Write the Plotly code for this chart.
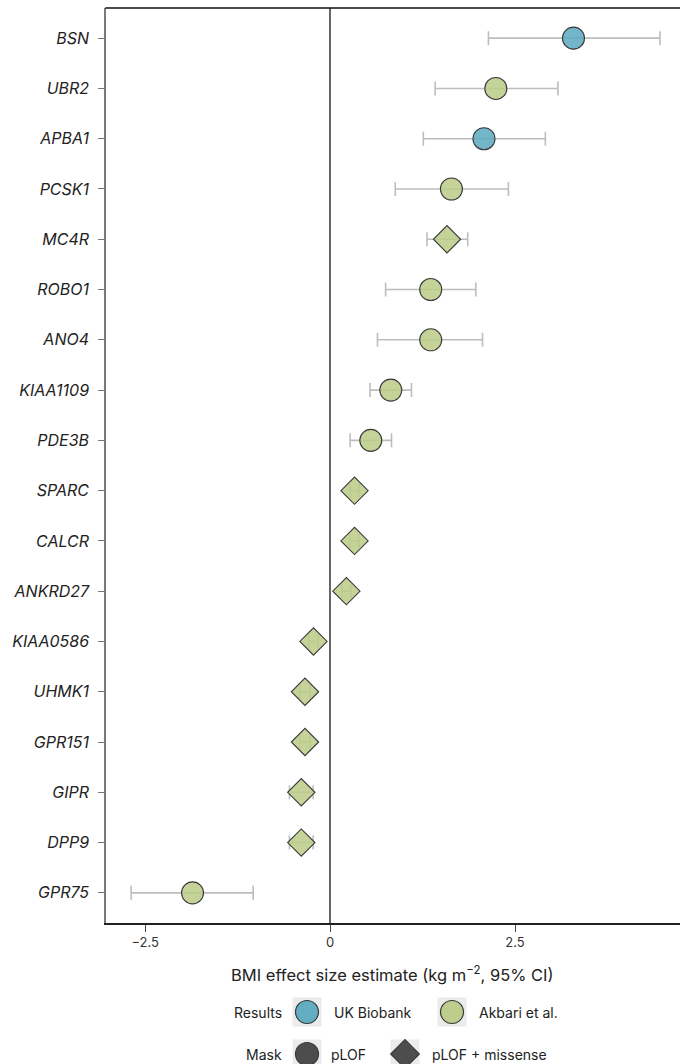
import plotly.graph_objects as go

# Gene-level BMI effect estimates (kg m^-2) with 95% confidence intervals
genes = ["BSN", "UBR2", "APBA1", "PCSK1", "MC4R", "ROBO1", "ANO4", "KIAA1109",
         "PDE3B", "SPARC", "CALCR", "ANKRD27", "KIAA0586", "UHMK1", "GPR151",
         "GIPR", "DPP9", "GPR75"]
estimate = [3.29, 2.24, 2.08, 1.64, 1.58, 1.36, 1.36, 0.82,
            0.55, 0.33, 0.33, 0.22, -0.225, -0.34, -0.34,
            -0.39, -0.39, -1.86]
ci_low = [2.14, 1.42, 1.26, 0.88, 1.31, 0.75, 0.64, 0.54,
          0.27, 0.27, 0.27, 0.16, -0.29, -0.41, -0.41,
          -0.55, -0.55, -2.69]
ci_high = [4.46, 3.08, 2.91, 2.41, 1.86, 1.97, 2.06, 1.10,
           0.83, 0.39, 0.39, 0.28, -0.16, -0.27, -0.27,
           -0.23, -0.23, -1.04]
source = ["UK Biobank", "Akbari et al.", "UK Biobank", "Akbari et al.", "Akbari et al.",
          "Akbari et al.", "Akbari et al.", "Akbari et al.", "Akbari et al.",
          "Akbari et al.", "Akbari et al.", "Akbari et al.", "Akbari et al.",
          "Akbari et al.", "Akbari et al.", "Akbari et al.", "Akbari et al.",
          "Akbari et al."]
mask = ["pLOF", "pLOF", "pLOF", "pLOF", "pLOF + missense", "pLOF", "pLOF", "pLOF",
        "pLOF", "pLOF + missense", "pLOF + missense", "pLOF + missense",
        "pLOF + missense", "pLOF + missense", "pLOF + missense",
        "pLOF + missense", "pLOF + missense", "pLOF"]
x_ticks = [-2.5, 0, 2.5]
x_tick_text = ["\u22122.5", "0", "2.5"]

W, H = 680, 1064
FONT = "Inter, Roboto, sans-serif"
fill = {"UK Biobank": "rgba(92,170,193,0.86)", "Akbari et al.": "rgba(188,203,135,0.86)"}
symbol = {"pLOF": "circle", "pLOF + missense": "diamond"}
msize = {"pLOF": 22, "pLOF + missense": 21}
EDGE = "#3a3a3a"

# plot-area placement in pixels
PL, PR, PT, PB = 106, 680, 8, 923
KEY_TOP = 994  # key strip runs from here to the bottom edge

fig = go.Figure()

# confidence-interval whiskers
fig.add_trace(go.Scatter(
    x=estimate, y=genes, mode="markers",
    marker=dict(size=1, color="rgba(0,0,0,0)"),
    error_x=dict(type="data", symmetric=False,
                 array=[h - e for h, e in zip(ci_high, estimate)],
                 arrayminus=[e - l for e, l in zip(estimate, ci_low)],
                 color="#bdbdbd", thickness=1.6, width=7),
    showlegend=False, hoverinfo="skip"))

# point estimates, grouped by result source and variant mask
for src in ["UK Biobank", "Akbari et al."]:
    for m in ["pLOF", "pLOF + missense"]:
        idx = [i for i in range(len(genes)) if source[i] == src and mask[i] == m]
        if not idx:
            continue
        fig.add_trace(go.Scatter(
            x=[estimate[i] for i in idx], y=[genes[i] for i in idx],
            mode="markers", name=f"{src} / {m}",
            marker=dict(symbol=symbol[m], size=msize[m], color=fill[src],
                        line=dict(color=EDGE, width=1.1)),
            showlegend=False))

fig.update_layout(
    width=W, height=H,
    margin=dict(l=0, r=0, t=0, b=0),
    paper_bgcolor="white", plot_bgcolor="rgba(0,0,0,0)",
    font=dict(family=FONT, color="#222222"),
    xaxis=dict(domain=[PL / W, PR / W], range=[-3.03, 4.73],
               tickvals=x_ticks, ticktext=x_tick_text,
               tickfont=dict(size=13, color="#333333"),
               ticks="outside", ticklen=7, tickcolor="#444444", tickwidth=1.2,
               showline=True, linecolor="#222222", linewidth=1.5,
               showgrid=False, zeroline=True, zerolinecolor="#666666",
               zerolinewidth=1.5, automargin=False),
    yaxis=dict(domain=[(H - PB) / H, (H - PT) / H],
               type="category", categoryorder="array", categoryarray=genes,
               range=[17.6, -0.6],
               tickfont=dict(size=16, color="#222222", style="italic"),
               ticks="outside", ticklen=6, tickcolor="#777777", tickwidth=1.2,
               ticklabelstandoff=6,
               showline=True, linecolor="#7a7a7a", linewidth=1.5,
               showgrid=False, zeroline=False, automargin=False),
    # pixel-space strip for the key below the chart
    xaxis2=dict(domain=[0, 1], range=[0, W], visible=False, fixedrange=True,
                anchor="y2"),
    yaxis2=dict(domain=[0, (H - KEY_TOP) / H], range=[H, KEY_TOP], visible=False,
                fixedrange=True, anchor="x2"),
)

# top border of the plot area
fig.add_shape(type="line", xref="paper", yref="paper",
              x0=PL / W - 0.001, x1=1, y0=(H - PT) / H, y1=(H - PT) / H,
              line=dict(color="#111111", width=1.5))

# axis title
fig.add_annotation(xref="paper", yref="paper", x=(PL + PR) / 2 / W, y=(H - 974) / H,
                   text="BMI effect size estimate (kg m<sup>\u22122</sup>, 95% CI)",
                   showarrow=False, font=dict(size=16.5, color="#222222"),
                   xanchor="center", yanchor="middle")

# key: rows of (label, swatches)
ROW1, ROW2 = 1012, 1054
key_items = [
    (307, ROW1, "circle", 23, "rgba(92,170,193,0.95)", "UK Biobank", 332),
    (452, ROW1, "circle", 23, "rgba(188,203,135,0.95)", "Akbari et al.", 477),
    (307, ROW2, "circle", 23, "#4d4d4d", "pLOF", 329),
    (405, ROW2, "diamond", 22, "#4d4d4d", "pLOF + missense", 430),
]
for cx, cy, sym, sz, col, label, tx in key_items:
    fig.add_shape(type="rect", xref="x2", yref="y2",
                  x0=cx - 14.5, x1=cx + 14.5, y0=cy - 14.5, y1=cy + 14.5,
                  fillcolor="#ebebeb", line=dict(width=0), layer="below")
    fig.add_trace(go.Scatter(x=[cx], y=[cy], xaxis="x2", yaxis="y2", mode="markers",
                             marker=dict(symbol=sym, size=sz, color=col,
                                         line=dict(color=EDGE, width=1.2)),
                             cliponaxis=False, showlegend=False, hoverinfo="skip"))
    fig.add_annotation(xref="x2", yref="y2", x=tx, y=cy, text=label, showarrow=False,
                       xanchor="left", yanchor="middle",
                       font=dict(size=14, color="#222222"))
for label, cy in [("Results", ROW1), ("Mask", ROW2)]:
    fig.add_annotation(xref="x2", yref="y2", x=284, y=cy, text=label, showarrow=False,
                       xanchor="right", yanchor="middle",
                       font=dict(size=14, color="#222222"))

fig.write_html("out.html")
